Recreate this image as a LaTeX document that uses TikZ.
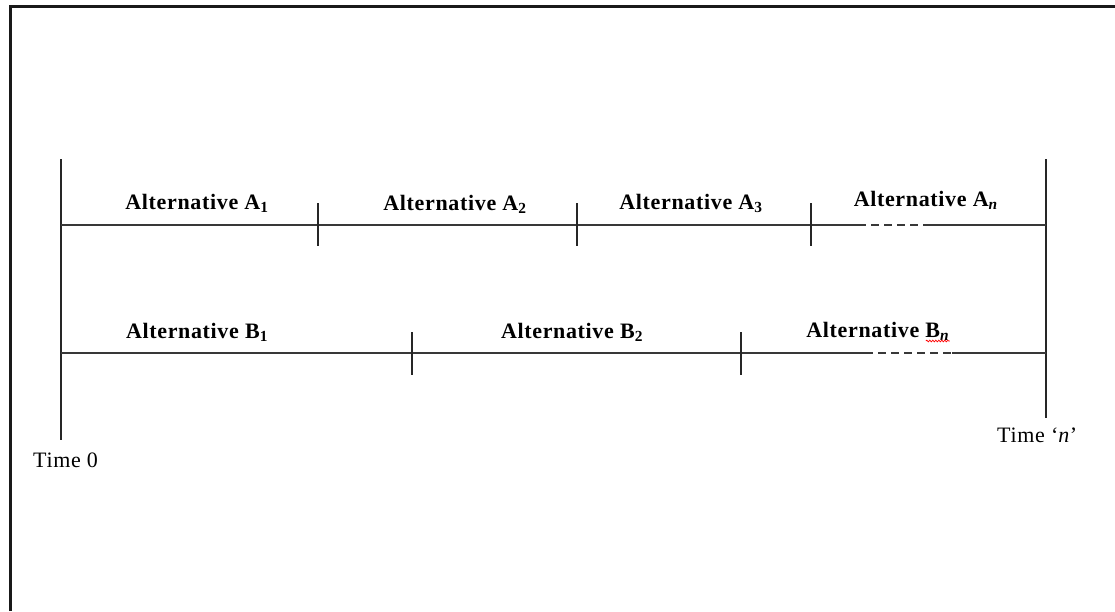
\documentclass[tikz,border=0pt]{standalone}
\usepackage{fontspec}
\setmainfont{Liberation Serif}
\newfontfamily\labelfont[LetterSpace=3]{Liberation Serif}
\usetikzlibrary{decorations.pathmorphing}
\begin{document}
\begin{tikzpicture}[x=1pt,y=-1pt,
  rule/.style={line width=2pt,draw=black!78},
  tickmark/.style={line width=2pt,draw=black!85},
  gapline/.style={rule,dash pattern=on 8pt off 5pt},
  alt/.style={font=\labelfont\fontsize{22}{26}\selectfont\bfseries,anchor=base,inner sep=0pt},
  timelbl/.style={font=\labelfont\fontsize{22}{26}\selectfont,anchor=base west,inner sep=0pt}]
\useasboundingbox (0,0) rectangle (1115,611);
\fill[white] (0,0) rectangle (1115,611);

% outer frame (left and top edges)
\draw[line width=3pt,draw=black!90] (10.5,611) -- (10.5,6.5) -- (1115,6.5);

% time boundaries
\coordinate (t0top) at (61,159);
\coordinate (t0bot) at (61,440);
\coordinate (tntop) at (1046,159);
\coordinate (tnbot) at (1046,418);
\draw[tickmark] (t0top) -- (t0bot);
\draw[tickmark] (tntop) -- (tnbot);

% alternative A line
\coordinate (astart) at (61,225);
\coordinate (agapl) at (858,225);
\coordinate (agapr) at (927,225);
\coordinate (aend) at (1046,225);
\draw[rule] (astart) -- (agapl);
\draw[gapline] (agapl) -- (agapr);
\draw[rule] (agapr) -- (aend);
\foreach \x/\n in {318/a1, 577/a2, 811/a3} {
  \coordinate (\n top) at (\x,203);
  \coordinate (\n bot) at (\x,246);
  \draw[tickmark] (\n top) -- (\n bot);
}

% alternative B line
\coordinate (bstart) at (61,353);
\coordinate (bgapl) at (865,353);
\coordinate (bgapr) at (952,353);
\coordinate (bend) at (1046,353);
\draw[rule] (bstart) -- (bgapl);
\draw[gapline] (bgapl) -- (bgapr);
\draw[rule] (bgapr) -- (bend);
\foreach \x/\n in {412/b1, 741/b2} {
  \coordinate (\n top) at (\x,332);
  \coordinate (\n bot) at (\x,375);
  \draw[tickmark] (\n top) -- (\n bot);
}

% labels
\node[alt] (la1) at (197,209) {Alternative A\textsubscript{1}};
\node[alt] (la2) at (455,210) {Alternative A\textsubscript{2}};
\node[alt] (la3) at (691,209) {Alternative A\textsubscript{3}};
\node[alt] (lan) at (926,206) {Alternative A\textsubscript{\textit{n}}};
\node[alt] (lb1) at (197,338) {Alternative B\textsubscript{1}};
\node[alt] (lb2) at (572,338) {Alternative B\textsubscript{2}};
\node[alt] (lbn) at (878,337) {Alternative B\textsubscript{\textit{n}}};
\draw[red,line width=0.7pt,decorate,decoration={snake,amplitude=0.8pt,segment length=3pt}]
  (lbn.base east) ++(-24,4) -- ++(24,0);

\node[timelbl] (time0) at (33,467) {Time 0};
\node[timelbl] (timen) at (997,442) {Time ‘\textit{n}’};
\end{tikzpicture}
\end{document}
